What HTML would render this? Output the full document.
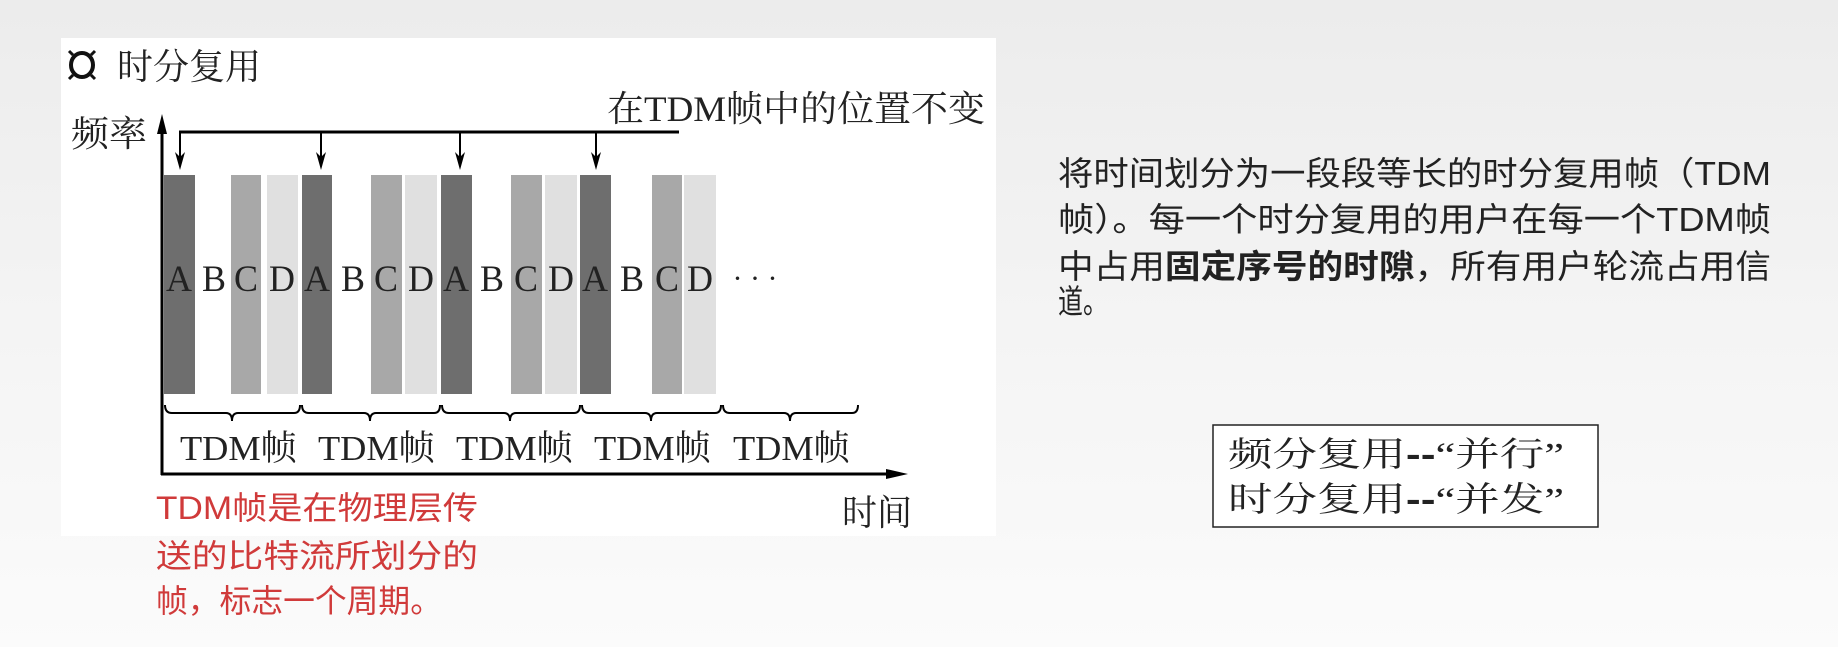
<!DOCTYPE html>
<html><head><meta charset="utf-8"><style>
html,body{margin:0;padding:0;width:1838px;height:647px;overflow:hidden;}
svg{display:block}
.s{font-family:"Liberation Serif","Noto Serif CJK SC",serif;}
.c{font-family:"Liberation Sans","Noto Sans CJK SC",sans-serif;}
</style></head><body>
<svg width="1838" height="647" viewBox="0 0 1838 647" xmlns="http://www.w3.org/2000/svg">
<defs>
<linearGradient id="bg" x1="0" y1="0" x2="0" y2="1">
<stop offset="0" stop-color="#ececec"/><stop offset="0.5" stop-color="#f4f4f4"/><stop offset="1" stop-color="#fbfbfb"/>
</linearGradient>
</defs>
<rect width="1838" height="647" fill="url(#bg)"/>
<rect x="61" y="38" width="935" height="498" fill="#ffffff"/>

<!-- title icon -->
<g stroke="#111" stroke-width="4" fill="none">
<ellipse cx="82" cy="65" rx="11" ry="12"/>
</g>
<g stroke="#111" stroke-width="3">
<line x1="69" y1="51" x2="73" y2="55"/><line x1="95" y1="51" x2="91" y2="55"/>
<line x1="69" y1="79" x2="73" y2="75"/><line x1="95" y1="79" x2="91" y2="75"/>
</g>
<text class="s" x="117" y="79" font-size="36" fill="#222" textLength="144" lengthAdjust="spacingAndGlyphs">时分复用</text>
<text class="s" x="607" y="121" font-size="36" fill="#222" textLength="378" lengthAdjust="spacingAndGlyphs">在TDM帧中的位置不变</text>
<text class="s" x="71" y="146" font-size="36" fill="#222" textLength="76" lengthAdjust="spacingAndGlyphs">频率</text>

<!-- axes -->
<g stroke="#000" stroke-width="3" fill="none">
<line x1="162" y1="125" x2="162" y2="475"/>
<line x1="161" y1="474" x2="896" y2="474"/>
<line x1="179" y1="132" x2="679" y2="132"/>
</g>
<polygon points="162,114 157,134 167,134" fill="#000"/>
<polygon points="908,474 886,469 886,479" fill="#000"/>
<g stroke="#000" stroke-width="2">
<line x1="180" y1="132" x2="180" y2="160"/><line x1="321" y1="132" x2="321" y2="160"/>
<line x1="460" y1="132" x2="460" y2="160"/><line x1="596" y1="132" x2="596" y2="160"/>
</g>
<g fill="#000">
<polygon points="180,170 175,152 180,157 185,152"/>
<polygon points="321,170 316,152 321,157 326,152"/>
<polygon points="460,170 455,152 460,157 465,152"/>
<polygon points="596,170 591,152 596,157 601,152"/>
</g>

<!-- bars -->
<g>
<rect x="164" y="175" width="31" height="219" fill="#6e6e6e"/>
<rect x="231" y="175" width="30" height="219" fill="#a8a8a8"/>
<rect x="267" y="175" width="31" height="219" fill="#e0e0e0"/>
<rect x="302" y="175" width="30" height="219" fill="#6e6e6e"/>
<rect x="371" y="175" width="31" height="219" fill="#a8a8a8"/>
<rect x="405" y="175" width="32" height="219" fill="#e0e0e0"/>
<rect x="441" y="175" width="31" height="219" fill="#6e6e6e"/>
<rect x="511" y="175" width="31" height="219" fill="#a8a8a8"/>
<rect x="545" y="175" width="32" height="219" fill="#e0e0e0"/>
<rect x="580" y="175" width="31" height="219" fill="#6e6e6e"/>
<rect x="652" y="175" width="30" height="219" fill="#a8a8a8"/>
<rect x="684" y="175" width="32" height="219" fill="#e0e0e0"/>
</g>
<g class="s" font-size="37" fill="#222" text-anchor="middle">
<text x="179" y="291" textLength="26" lengthAdjust="spacingAndGlyphs">A</text><text x="214" y="291" textLength="24" lengthAdjust="spacingAndGlyphs">B</text><text x="246" y="291" textLength="24" lengthAdjust="spacingAndGlyphs">C</text><text x="282" y="291" textLength="26" lengthAdjust="spacingAndGlyphs">D</text>
<text x="317" y="291" textLength="26" lengthAdjust="spacingAndGlyphs">A</text><text x="353" y="291" textLength="24" lengthAdjust="spacingAndGlyphs">B</text><text x="386" y="291" textLength="24" lengthAdjust="spacingAndGlyphs">C</text><text x="421" y="291" textLength="26" lengthAdjust="spacingAndGlyphs">D</text>
<text x="456" y="291" textLength="26" lengthAdjust="spacingAndGlyphs">A</text><text x="492" y="291" textLength="24" lengthAdjust="spacingAndGlyphs">B</text><text x="526" y="291" textLength="24" lengthAdjust="spacingAndGlyphs">C</text><text x="561" y="291" textLength="26" lengthAdjust="spacingAndGlyphs">D</text>
<text x="595" y="291" textLength="26" lengthAdjust="spacingAndGlyphs">A</text><text x="632" y="291" textLength="24" lengthAdjust="spacingAndGlyphs">B</text><text x="667" y="291" textLength="24" lengthAdjust="spacingAndGlyphs">C</text><text x="700" y="291" textLength="26" lengthAdjust="spacingAndGlyphs">D</text>
<text x="755" y="288" font-size="30">· · ·</text>
</g>

<!-- braces -->
<g stroke="#000" stroke-width="2" fill="none">
<path d="M165,405 q0,8 7,8 L226,413 q6,0 6,8 q0,-8 6,-8 L294,413 q6,0 6,-8"/>
<path d="M302,405 q0,8 7,8 L364,413 q6,0 6,8 q0,-8 6,-8 L434,413 q6,0 6,-8"/>
<path d="M442,405 q0,8 7,8 L504,413 q6,0 6,8 q0,-8 6,-8 L574,413 q6,0 6,-8"/>
<path d="M582,405 q0,8 7,8 L645,413 q6,0 6,8 q0,-8 6,-8 L715,413 q6,0 6,-8"/>
<path d="M723,405 q0,8 7,8 L784,413 q6,0 6,8 q0,-8 6,-8 L852,413 q6,0 6,-8"/>
</g>
<g class="s" font-size="35" fill="#222">
<text x="180" y="460" textLength="117" lengthAdjust="spacingAndGlyphs">TDM帧</text>
<text x="318" y="460" textLength="117" lengthAdjust="spacingAndGlyphs">TDM帧</text>
<text x="456" y="460" textLength="117" lengthAdjust="spacingAndGlyphs">TDM帧</text>
<text x="594" y="460" textLength="117" lengthAdjust="spacingAndGlyphs">TDM帧</text>
<text x="733" y="460" textLength="117" lengthAdjust="spacingAndGlyphs">TDM帧</text>
</g>
<text class="s" x="842" y="525" font-size="36" fill="#222" textLength="70" lengthAdjust="spacingAndGlyphs">时间</text>

<g class="c" font-size="32" fill="#d03a3a">
<text x="156" y="519" textLength="322" lengthAdjust="spacingAndGlyphs">TDM帧是在物理层传</text>
<text x="156" y="567" textLength="322" lengthAdjust="spacingAndGlyphs">送的比特流所划分的</text>
<text x="156" y="612" textLength="286" lengthAdjust="spacingAndGlyphs">帧，标志一个周期。</text>
</g>

<!-- right paragraph -->
<g class="c" font-size="33" fill="#222">
<text x="1058" y="185" textLength="713" lengthAdjust="spacingAndGlyphs">将时间划分为一段段等长的时分复用帧（TDM</text>
<text x="1058" y="231" textLength="713" lengthAdjust="spacingAndGlyphs">帧）。每一个时分复用的用户在每一个TDM帧</text>
<text x="1058" y="278" textLength="713" lengthAdjust="spacingAndGlyphs">中占用<tspan font-weight="bold">固定序号的时隙</tspan>，所有用户轮流占用信</text>
<text x="1058" y="313" textLength="50" lengthAdjust="spacingAndGlyphs">道。</text>
</g>

<rect x="1213" y="425" width="385" height="102" fill="#fff" stroke="#222" stroke-width="1.5"/>
<g class="s" font-size="34" fill="#222">
<text x="1228" y="466" textLength="336" lengthAdjust="spacingAndGlyphs">频分复用<tspan class="c" font-weight="bold">--</tspan>“并行”</text>
<text x="1228" y="511" textLength="336" lengthAdjust="spacingAndGlyphs">时分复用<tspan class="c" font-weight="bold">--</tspan>“并发”</text>
</g>
</svg>
</body></html>
